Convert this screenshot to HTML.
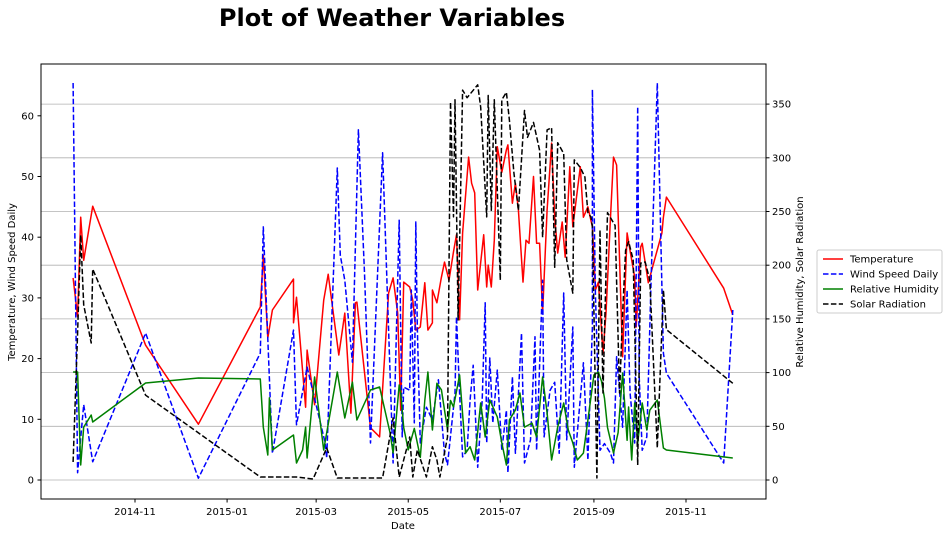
<!DOCTYPE html>
<html><head><meta charset="utf-8"><style>
html,body{margin:0;padding:0;background:#fff;}
svg{display:block;font-family:"DejaVu Sans","Liberation Sans",sans-serif;}
</style></head><body>
<svg id="chart" width="949" height="537" viewBox="0 0 949 537">
<text x="392" y="26" text-anchor="middle" font-size="24" font-weight="bold">Plot of Weather Variables</text>
<g id="grid"></g>
<g id="series"></g>
<rect x="41" y="64" width="725" height="435" fill="none" stroke="#000" stroke-width="1"/>
<g id="axes" font-size="10"></g>
<text x="403" y="529" text-anchor="middle" font-size="10">Date</text>
<text transform="translate(15,282) rotate(-90)" text-anchor="middle" font-size="10">Temperature, Wind Speed Daily</text>
<text transform="translate(803,282) rotate(-90)" text-anchor="middle" font-size="10">Relative Humidity, Solar Radiation</text>
<g id="legend" font-size="10">
<rect x="817" y="250" width="125" height="63" rx="2" fill="#fff" stroke="#ccc"/>
</g>
</svg>
<script>
// x values: days since 2014-11-01
const monthTickDays = [0,61,120,181,242,304,365];
const monthTickLabels = ["2014-11","2015-01","2015-03","2015-05","2015-07","2015-09","2015-11"];
const leftTicks = [0,10,20,30,40,50,60];
const rightTicks = [0,50,100,150,200,250,300,350];
const seriesNames = ["Temperature","Wind Speed Daily","Relative Humidity","Solar Radiation"];

const tempDays = [-41,-38,-36,-34,-28,7,42,83,85,88,91,105,105,107,113,114,119,125,128,135,139,143,146,147,156,162,168,171,174,176,178,182,184,186,189,192,194,197,197,200,203,205,208,211,213,215,217,221,223,225,227,231,233,234,236,238,240,243,246,247,250,252,254,257,259,261,264,266,268,270,273,276,278,280,283,285,288,290,295,297,300,303,305,307,310,312,315,317,319,323,326,329,331,332,335,336,340,349,350,352,390,396];
const tempVals = [33.3,26.9,43.3,36.2,45.1,22.2,9.2,28.5,37,23.4,28,33.1,25.9,30.1,12,21.4,12.4,29.6,33.9,20.6,27.5,11,29.2,29.3,8.6,7.1,30.8,33.3,27.5,11.5,32.6,31.8,29.6,24.7,25.2,32.5,24.7,25.9,31.3,29.2,33.4,35.9,32.9,37.6,40.4,26.4,40.7,53.2,48.9,47.3,31.3,40.4,31.8,35.4,31.8,39.5,54.9,50.7,54.4,55.2,45.6,48.9,44.5,32.6,39.5,39,50,39,39,27.5,44.5,55.5,43.3,37.4,42.5,36.7,51.6,41.7,51.6,43.3,45,41.7,31.3,32.6,20.9,27.5,43.3,53.2,51.9,20.3,40.7,36.2,33.4,25.2,38.4,39,32.5,40.7,43.3,46.6,31.6,27.2];

const windDays = [-41,-38,-34,-28,7,42,83,85,91,105,107,114,126,127,134,136,139,144,148,152,156,164,171,175,177,178,182,183,185,186,187,189,193,197,201,205,207,212,213,215,217,220,222,224,227,230,232,233,235,237,240,243,246,247,250,252,256,258,262,265,266,270,271,275,278,281,284,286,290,291,297,300,303,303,305,308,311,315,317,319,323,326,328,331,333,334,336,339,342,346,350,352,390,396];
const windVals = [65.4,1.2,12.4,3,24.2,0.3,20.9,41.7,4.4,24.7,9.1,18.6,6.1,3.6,51.4,37,32.9,19.4,57.7,34.1,6.1,53.9,2.8,42.8,7.1,15.3,14.8,31.3,9.4,42.5,25.2,6.1,12,9.9,16.5,4.4,2.5,14.3,26.9,14.3,3.8,4.9,13.2,18.9,2.1,13.2,29.2,6.1,20.1,9.4,18.1,4.9,11.5,1.2,17,4.4,24.2,2.8,6.6,23.6,4.9,32.9,7.1,14.8,16.1,4.4,30.8,6.6,25.2,2.1,19.3,3.3,25.2,64.3,30.8,4.9,6,4.4,2.8,20.3,8.7,31.3,14.3,6.1,61.5,17,4.9,7.1,34.1,65.4,20.9,17.6,2.8,28];

const humDays = [-41,-38,-36,-34,-29,-28,7,42,83,85,88,89,91,105,107,111,113,114,119,125,134,139,144,147,156,162,169,171,175,176,178,181,185,189,192,194,197,200,203,207,209,211,215,219,222,225,229,232,235,240,243,246,248,252,255,258,263,266,270,273,276,280,284,287,290,293,297,300,304,307,309,311,313,317,320,323,326,327,329,331,333,336,339,341,346,350,352,396];
const humVals = [100.6,100.6,14,49.3,60.5,54,90.3,95,94,49.3,23.3,76.4,27.9,41.9,15.8,27.9,49.3,20.5,95.9,27.9,100.6,57.7,91.2,55.9,83.8,86.6,43.8,25.1,88.5,81,49,28,48,21,74,100.6,46.6,90,84,47,74,68,97.8,25,31,18.6,71.7,40,74.5,58.7,34.5,14,55.9,65.2,81,49.3,53,40,95.9,62.4,18.6,49.3,71.7,46.6,34.5,18.6,25,55.9,97.8,100.6,92,76,49,25,44,99.6,37,68,18.6,71.7,34.5,71.7,46.6,65,74.5,29.8,27.9,20.5];

const solarDays = [-41,-38,-36,-34,-29,-28,7,83,107,118,127,134,164,171,175,182,184,187,193,197,200,202,207,209,211,212,214,217,220,227,229,233,234,236,238,242,243,246,248,251,254,258,260,264,268,270,273,276,278,280,284,286,290,291,295,298,300,302,303,306,308,310,313,318,321,323,325,327,330,333,335,338,341,346,350,352,396];
const solarVals = [16.8,137,228,163,127.6,196.5,79,2.8,2.8,0.9,29.8,1.9,1.9,57.7,2.8,40,2.8,28,2.8,31,18.6,2.8,40,352,245,354,149,363,356,368,347,245,358,251,354,186,354,361,335,286,251,344,319,333,307,226,326,328,198,314,304,205,174,298,291,282,249,245,236,1.9,233,81,249,237,81,155,214,222,205,14,202,203,186,29.8,177,140,90];

const NS = "http://www.w3.org/2000/svg";
const X0 = 135, XPD = 1.5096;
function xScale(d){ return X0 + d*XPD; }
function yLeft(v){ return 480 - v*6.07; }
function yRight(v){ return 480 - v*1.074; }
function mk(tag, attrs, parent){
  const e = document.createElementNS(NS, tag);
  for (const k in attrs) e.setAttribute(k, attrs[k]);
  parent.appendChild(e); return e;
}
const grid = document.getElementById('grid');
const axes = document.getElementById('axes');
const series = document.getElementById('series');

rightTicks.forEach(function(t){
  const y = yRight(t);
  const g = mk('line',{x1:41,x2:766,y1:y,y2:y,stroke:'#b0b0b0','stroke-width':0.8},grid);
  
  
  const tk = mk('line',{x1:766,x2:769.5,y1:y,y2:y,stroke:'#000'},axes);
  
  
  const lb = mk('text',{x:772,y:y+3.5},axes);
  lb.textContent = t;
  
  
});
leftTicks.forEach(function(t){
  const y = yLeft(t);
  const tk = mk('line',{x1:37.5,x2:41,y1:y,y2:y,stroke:'#000'},axes);
  
  
  const lb = mk('text',{x:34,y:y+3.5,'text-anchor':'end'},axes);
  lb.textContent = t;
  
  
});
monthTickDays.forEach(function(d,i){
  const x = xScale(d);
  const tk = mk('line',{x1:x,x2:x,y1:499,y2:502.5,stroke:'#000'},axes);
  
  
  const lb = mk('text',{x:x,y:515,'text-anchor':'middle'},axes);
  lb.textContent = monthTickLabels[i];
  
  
});

function drawLine(days, vals, yf, color, dash, name){
  const pts = days.map(function(d,i){ return xScale(d).toFixed(1)+','+yf(vals[i]).toFixed(1); }).join(' ');
  const attrs = {points:pts, fill:'none', stroke:color, 'stroke-width':1.5, 'stroke-linejoin':'round'};
  if (dash) attrs['stroke-dasharray'] = '5.5,2.4';
  const p = mk('polyline', attrs, series);
  
  
}
drawLine(tempDays, tempVals, yLeft, '#ff0000', false, 'temperature-line');
drawLine(windDays, windVals, yLeft, '#0000ff', true, 'wind-speed-line');
drawLine(humDays, humVals, yRight, '#008000', false, 'humidity-line');
drawLine(solarDays, solarVals, yRight, '#000000', true, 'solar-radiation-line');

const legend = document.getElementById('legend');
const legColors = ['#ff0000','#0000ff','#008000','#000000'];
const legDash = [false,true,false,true];
seriesNames.forEach(function(n,i){
  const y = 259 + i*15;
  const ln = mk('line',{x1:823,x2:843,y1:y,y2:y,stroke:legColors[i],'stroke-width':1.5},legend);
  if (legDash[i]) ln.setAttribute('stroke-dasharray','5.5,2.4');
  
  
  const t = mk('text',{x:850,y:y+3.5},legend);
  t.textContent = n;
  
  
});
</script>
</body></html>
